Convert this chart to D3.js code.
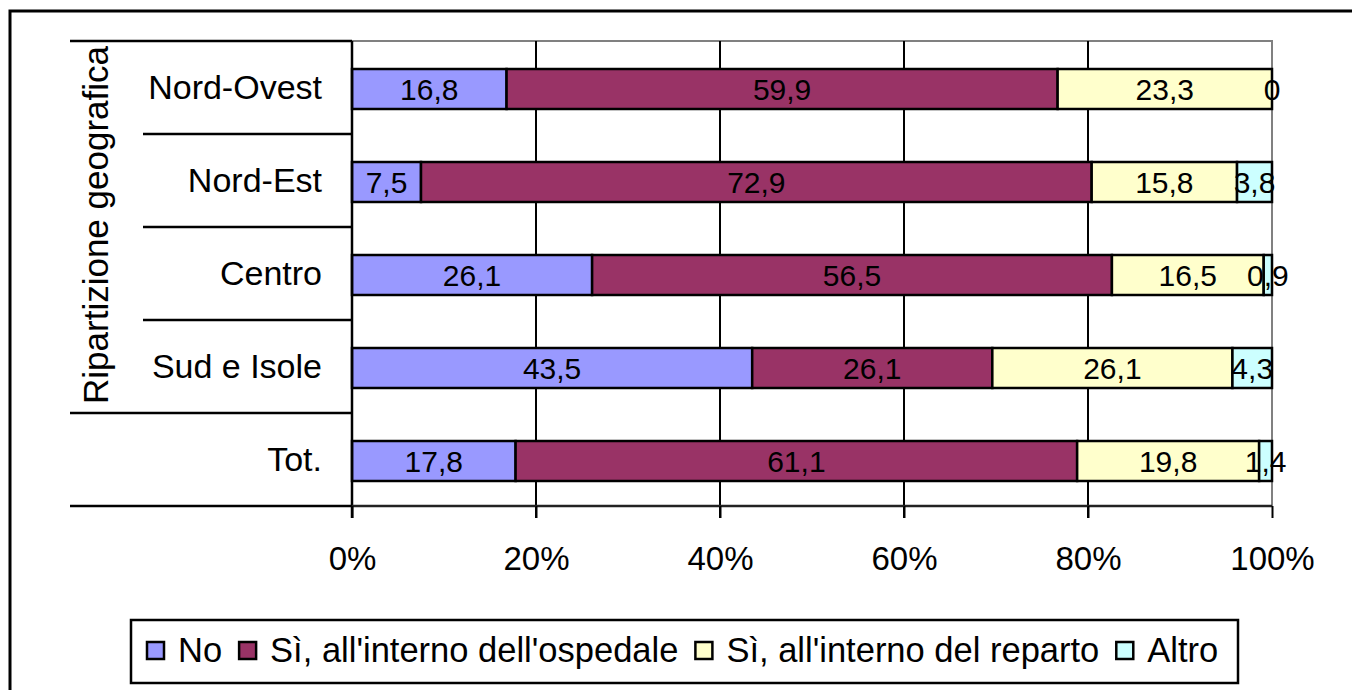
<!DOCTYPE html>
<html>
<head>
<meta charset="utf-8">
<script src="https://cdn.jsdelivr.net/npm/d3@7/dist/d3.min.js"></script>
<style>
  html, body { margin: 0; padding: 0; background: #fff; }
  svg { display: block; font-family: Arial, "Liberation Sans", sans-serif; }
</style>
</head>
<body>
<svg id="chart" width="1352" height="690"></svg>
<script>
// ---- DATA ----
const categories = ["Nord-Ovest", "Nord-Est", "Centro", "Sud e Isole", "Tot."];
const seriesNames = ["No", "Sì, all'interno dell'ospedale", "Sì, all'interno del reparto", "Altro"];
const valuesNo       = [16.8, 7.5, 26.1, 43.5, 17.8];
const valuesOspedale = [59.9, 72.9, 56.5, 26.1, 61.1];
const valuesReparto  = [23.3, 15.8, 16.5, 26.1, 19.8];
const valuesAltro    = [0, 3.8, 0.9, 4.3, 1.4];
const seriesColors   = ["#9999FF", "#993366", "#FFFFCC", "#CCFFFF"];
const tickValues     = [0, 0.2, 0.4, 0.6, 0.8, 1];
const axisTitle      = "Ripartizione geografica";

// ---- LAYOUT ----
const svg = d3.select("#chart");
const W = 1352, H = 690;
const plot = { left: 352, right: 1272, top: 41, bottom: 506 };

const seriesValues = [valuesNo, valuesOspedale, valuesReparto, valuesAltro];
const keys = seriesNames.map((_, i) => "s" + i);
const rows = categories.map((c, j) => {
  const r = { cat: c };
  keys.forEach((k, i) => r[k] = seriesValues[i][j]);
  return r;
});
const stacked = d3.stack().keys(keys).offset(d3.stackOffsetExpand)(rows);

const x = d3.scaleLinear().domain([0, 1]).range([plot.left, plot.right]);
const yBand = d3.scaleBand().domain(categories).range([plot.top, plot.bottom]).paddingInner(0).paddingOuter(0);
const yBar = d3.scaleBand().domain(categories).range([plot.top + 1.5, plot.bottom + 1.5]).paddingInner(0.57).paddingOuter(0.285);

const locale = d3.formatLocale({ decimal: ",", thousands: ".", grouping: [3], currency: ["", "€"] });
const fmt = locale.format(".1~f");
const pct = d3.format(".0%");

// outer frame
svg.append("path")
  .attr("d", `M10,${H + 5} L10,11 L${W + 5},11`)
  .attr("fill", "none").attr("stroke", "#000").attr("stroke-width", 3);

// plot area border (gray top and right)
svg.append("path")
  .attr("d", `M${plot.left},${plot.top} L${plot.right},${plot.top} L${plot.right},${plot.bottom}`)
  .attr("fill", "none").attr("stroke", "#808080").attr("stroke-width", 2);

// vertical gridlines (with ticks extending below axis)
const grid = svg.append("g");
grid.selectAll("line").data(tickValues.slice(1, -1)).join("line")
  .attr("x1", d => x(d)).attr("x2", d => x(d))
  .attr("y1", plot.top).attr("y2", plot.bottom + 12)
  .attr("stroke", "#000").attr("stroke-width", 2);

// bars
const groups = svg.append("g").selectAll("g").data(stacked).join("g")
  .attr("fill", (d, i) => seriesColors[i]);
groups.selectAll("rect").data(d => d.map(v => ({ v, cat: v.data.cat }))).join("rect")
  .attr("x", d => x(d.v[0]))
  .attr("y", d => yBar(d.cat))
  .attr("width", d => Math.max(0, x(d.v[1]) - x(d.v[0])))
  .attr("height", yBar.bandwidth())
  .attr("stroke", "#000").attr("stroke-width", 2.5);

// value labels
const labels = svg.append("g").attr("font-size", 30).attr("text-anchor", "middle").attr("fill", "#000");
stacked.forEach((s, i) => {
  s.forEach((v, j) => {
    labels.append("text")
      .attr("x", (x(v[0]) + x(v[1])) / 2)
      .attr("y", yBar(categories[j]) + yBar.bandwidth() / 2 + 10.5)
      .text(fmt(seriesValues[i][j]));
  });
});

// left axis line
svg.append("line")
  .attr("x1", plot.left).attr("x2", plot.left)
  .attr("y1", plot.top).attr("y2", plot.bottom + 12)
  .attr("stroke", "#000").attr("stroke-width", 2.5);

// category separators
const seps = categories.map((c, i) => yBand(c)).concat([plot.bottom]);
svg.append("g").selectAll("line").data(seps).join("line")
  .attr("x1", (d, i) => (i === 0 || i >= categories.length - 1) ? 70 : 143)
  .attr("x2", plot.left)
  .attr("y1", d => d).attr("y2", d => d)
  .attr("stroke", "#000").attr("stroke-width", 2.5);

// bottom axis
const xAxis = d3.axisBottom(x).tickValues(tickValues).tickFormat(pct).tickSize(12).tickPadding(0);
const gx = svg.append("g").attr("transform", `translate(0,${plot.bottom})`).call(xAxis);
gx.select(".domain").attr("stroke", "#222").attr("stroke-width", 2.5).attr("d", `M${plot.left},0H${plot.right}`);
gx.selectAll(".tick line").attr("stroke", "#000").attr("stroke-width", 2);
gx.selectAll(".tick text")
  .attr("font-size", 33).attr("font-family", "Arial, 'Liberation Sans', sans-serif")
  .attr("fill", "#000").attr("dy", null).attr("y", 64);

// category labels
svg.append("g").selectAll("text").data(categories).join("text")
  .attr("x", 322)
  .attr("y", d => yBand(d) + yBand.bandwidth() / 2 + 11)
  .attr("text-anchor", "end").attr("font-size", 34).attr("fill", "#000")
  .text(d => d);

// rotated axis title
svg.append("text")
  .attr("transform", `translate(108,${(plot.top + yBand(categories[categories.length - 1])) / 2 - 2}) rotate(-90)`)
  .attr("text-anchor", "middle").attr("font-size", 35).attr("fill", "#000")
  .text(axisTitle);

// legend
const legend = svg.append("g");
legend.append("rect")
  .attr("x", 131).attr("y", 620).attr("width", 1107).attr("height", 63)
  .attr("fill", "#fff").attr("stroke", "#000").attr("stroke-width", 2.5);
let lx = 147;
seriesNames.forEach((name, i) => {
  legend.append("rect")
    .attr("x", lx).attr("y", 642).attr("width", 17).attr("height", 17)
    .attr("fill", seriesColors[i]).attr("stroke", "#000").attr("stroke-width", 2.5);
  const t = legend.append("text")
    .attr("x", lx + 31).attr("y", 662).attr("font-size", 34.5).attr("fill", "#000")
    .text(name);
  const w = t.node().getComputedTextLength();
  lx = lx + 31 + w + 17;
});
</script>
</body>
</html>
